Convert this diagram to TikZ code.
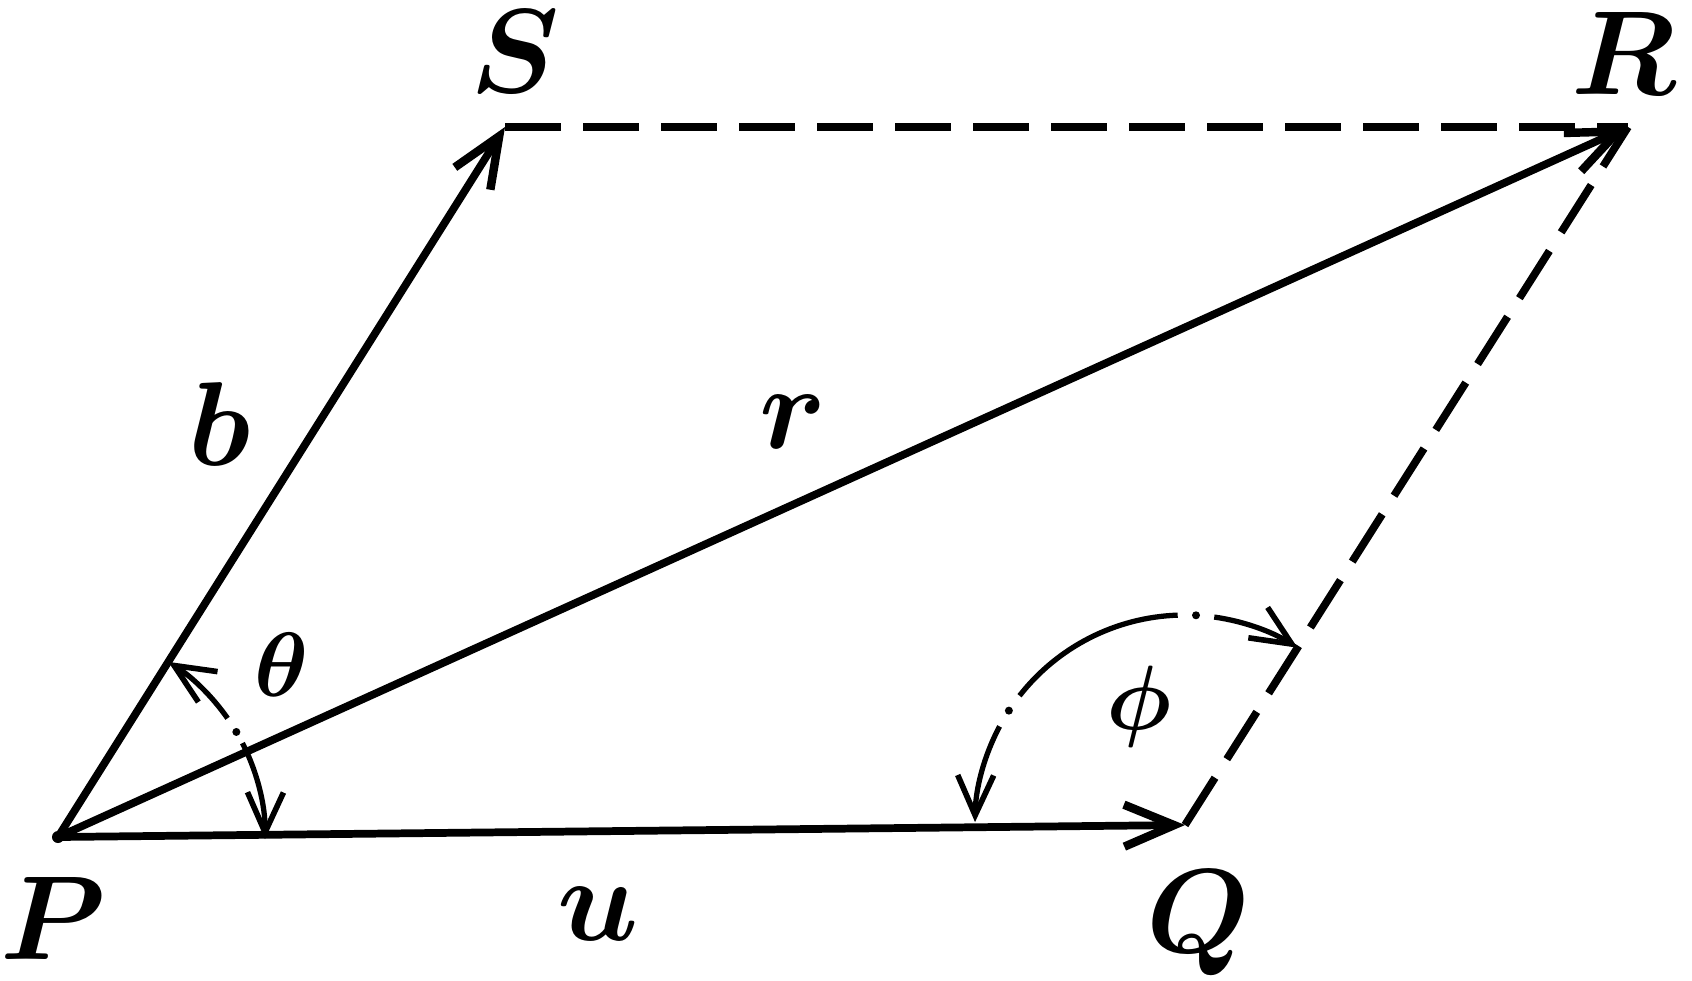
\documentclass[tikz,border=0pt]{standalone}
\usepackage{bm}
\usetikzlibrary{arrows.meta,calc}
\tikzset{
  vec/.style={line width=2.2pt, -{Straight Barb[length=5mm,width=4.2mm,line width=2.4pt]}},
  dashline/.style={line width=2.2pt, dash pattern=on 5.6mm off 2.2mm},
  arcline/.style={line width=1.5pt},
  arcarrow/.style={arcline, -{Straight Barb[length=4mm,width=3.6mm,line width=1.6pt]}},
  biglabel/.style={inner sep=0pt, scale=3.4},
  greeklabel/.style={inner sep=0pt, scale=2.6}
}
\begin{document}
\begin{tikzpicture}
\useasboundingbox (0,0) rectangle (16.92,9.8);
\coordinate (P) at (0.58,1.43);
\coordinate (Q) at (11.85,1.55);
\coordinate (R) at (16.28,8.53);
\coordinate (S) at (5.05,8.53);

% dashed sides
\draw[dashline] (S) -- (R);
\draw[dashline] (Q) -- (R);

% vectors
\draw[vec] (P) -- (Q);
\draw[vec] (P) -- (S);
\draw[vec] (P) -- (R);
\fill (P) circle (0.06);

% theta arc
\draw[arcarrow] ($(P)+(27:2.07)$) arc[start angle=27, end angle=-0.6, radius=2.07];
\fill ($(P)+(30.5:2.07)$) circle (0.04);
\draw[arcarrow] ($(P)+(35:2.07)$) arc[start angle=35, end angle=57.8, radius=2.07];

% phi arc
\draw[arcarrow] ($(Q)+(82:2.1)$) arc[start angle=82, end angle=57.6, radius=2.1];
\fill ($(Q)+(87:2.1)$) circle (0.04);
\draw[arcline] ($(Q)+(92:2.1)$) arc[start angle=92, end angle=142, radius=2.1];
\fill ($(Q)+(147:2.1)$) circle (0.04);
\draw[arcarrow] ($(Q)+(152:2.1)$) arc[start angle=152, end angle=179.2, radius=2.1];

% labels
\node[biglabel] (lS) at (5.15,9.28) {$\bm{S}$};
\node[biglabel] (lR) at (16.24,9.26) {$\bm{R}$};
\node[biglabel] (lP) at (0.53,0.62) {$\bm{P}$};
\node[biglabel] (lQ) at (11.98,0.57) {$\bm{Q}$};
\node[biglabel] (lb) at (2.20,5.56) {$\bm{b}$};
\node[biglabel] (lr) at (7.93,5.58) {$\bm{r}$};
\node[biglabel] (lu) at (5.98,0.66) {$\bm{u}$};
\node[greeklabel] (lth) at (2.82,3.15) {$\bm{\theta}$};
\node[greeklabel] (lph) at (11.39,2.73) {$\bm{\phi}$};
\end{tikzpicture}
\end{document}
